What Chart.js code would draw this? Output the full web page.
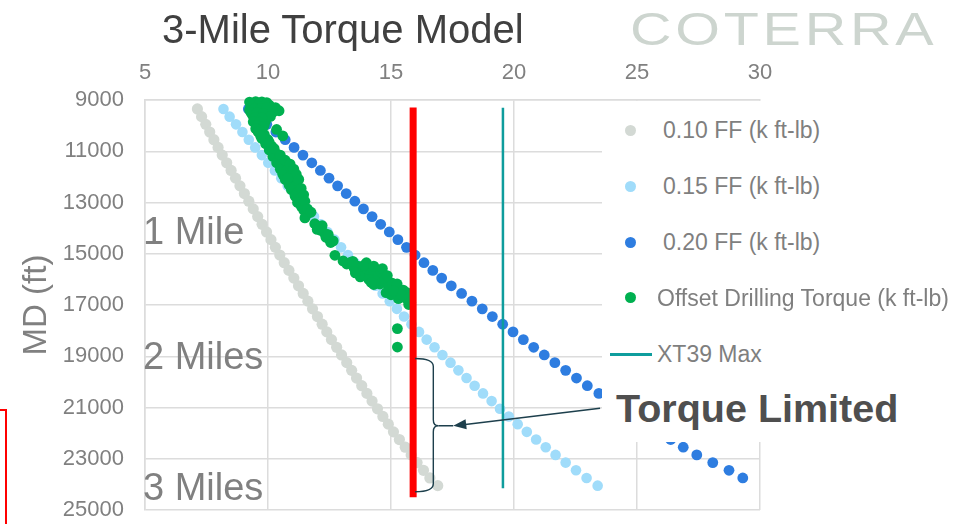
<!DOCTYPE html>
<html>
<head>
<meta charset="utf-8">
<title>3-Mile Torque Model</title>
<script src="https://cdn.jsdelivr.net/npm/chart.js@4.4.1/dist/chart.umd.min.js"></script>
<style>
  html, body { margin: 0; padding: 0; background: #fff; }
  #wrap { position: relative; width: 961px; height: 524px; overflow: hidden;
          font-family: "Liberation Sans", Arial, sans-serif; }
  #chart { position: absolute; left: 0; top: 0; }
  .txt { position: absolute; white-space: nowrap; line-height: 1; }
  #title { left: 162px; top: 9px; font-size: 40px; color: #404040; }
  #brand { left: 630px; top: 6px; font-size: 46px; color: #cdd5cf; letter-spacing: 3px;
           transform: scaleX(1.25); transform-origin: 0 0; }
  #cover { position: absolute; left: 602px; top: 101px; width: 330px; height: 341px; background: #fff; }
  .lg { position: absolute; font-size: 23px; color: #7f7f7f; line-height: 1; white-space: nowrap; }
  .dot { position: absolute; width: 11px; height: 11px; border-radius: 50%; }
  .mile { position: absolute; left: 143px; font-size: 38px; color: #808080; line-height: 1; white-space: nowrap; }
  #limit { left: 616px; top: 389px; font-size: 39.5px; font-weight: bold; color: #4f4f4f; }
  #redFrame { position: absolute; left: -100px; top: 409px; width: 103px; height: 200px; border: 2px solid #ff0000; }
</style>
</head>
<body>
<div id="wrap">
  <canvas id="chart" width="961" height="524"></canvas>
  <div class="txt" id="title">3-Mile Torque Model</div>
  <div class="txt" id="brand">COTERRA</div>
  <div id="cover"></div>
  <div class="dot" style="left:625px;top:125px;background:#d3d9d4"></div>
  <div class="lg" style="left:663px;top:119px">0.10 FF (k ft-lb)</div>
  <div class="dot" style="left:625px;top:181px;background:#a0dcfa"></div>
  <div class="lg" style="left:663px;top:175px">0.15 FF (k ft-lb)</div>
  <div class="dot" style="left:625px;top:237px;background:#2e7de0"></div>
  <div class="lg" style="left:663px;top:231px">0.20 FF (k ft-lb)</div>
  <div class="dot" style="left:625px;top:292px;background:#00b050"></div>
  <div class="lg" style="left:657px;top:287px">Offset Drilling Torque (k ft-lb)</div>
  <div style="position:absolute;left:610px;top:353px;width:42px;height:3px;background:#0f9d9d"></div>
  <div class="lg" style="left:657px;top:343px">XT39 Max</div>
  <div class="mile" style="top:212px">1 Mile</div>
  <div class="mile" style="top:337px">2 Miles</div>
  <div class="mile" style="top:468px">3 Miles</div>
  <div class="txt" id="limit">Torque Limited</div>
  <div id="redFrame"></div>
</div>
<script>
// measured depth of the model points (ft)
const mdFt = [9350, 9650, 9950, 10250, 10550, 10850, 11150, 11450, 11750, 12050,
              12350, 12650, 12950, 13250, 13550, 13850, 14150, 14450, 14750, 15050,
              15350, 15650, 15950, 16250, 16550, 16850, 17150, 17450, 17750, 18050,
              18350, 18650, 18950, 19250, 19550, 19850, 20150, 20450, 20750, 21050,
              21350, 21650, 21950, 22250, 22550, 22850, 23150, 23450, 23750, 24050];

// torque (k ft-lb) per friction factor
const ff010 = [7.13, 7.30, 7.47, 7.63, 7.80, 7.97, 8.14, 8.32, 8.50, 8.68,
               8.86, 9.04, 9.22, 9.40, 9.58, 9.76, 9.94, 10.12, 10.30, 10.48,
               10.66, 10.85, 11.05, 11.24, 11.43, 11.62, 11.81, 12.01, 12.20, 12.39,
               12.58, 12.79, 12.99, 13.20, 13.40, 13.60, 13.81, 14.02, 14.23, 14.45,
               14.67, 14.89, 15.10, 15.34, 15.58, 15.82, 16.06, 16.32, 16.58, 16.90];
const ff015 = [8.19, 8.44, 8.70, 8.96, 9.22, 9.48, 9.75, 10.01, 10.28, 10.54,
               10.80, 11.07, 11.33, 11.60, 11.87, 12.15, 12.42, 12.70, 12.97, 13.25,
               13.53, 13.80, 14.08, 14.37, 14.66, 14.95, 15.24, 15.53, 15.83, 16.14,
               16.45, 16.77, 17.09, 17.42, 17.74, 18.07, 18.40, 18.74, 19.09, 19.43,
               19.79, 20.15, 20.52, 20.90, 21.29, 21.69, 22.10, 22.52, 22.95, 23.40];
const ff020 = [9.20, 9.58, 9.95, 10.32, 10.70, 11.06, 11.42, 11.78, 12.13, 12.48,
               12.83, 13.18, 13.53, 13.88, 14.23, 14.58, 14.93, 15.28, 15.63, 15.98,
               16.34, 16.70, 17.06, 17.45, 17.87, 18.29, 18.71, 19.12, 19.54, 19.96,
               20.38, 20.80, 21.23, 21.66, 22.10, 22.54, 22.98, 23.45, 23.93, 24.41,
               24.89, 25.38, 25.87, 26.37, 26.88, 27.43, 28.08, 28.74, 29.30];

// offset well drilling torque
const offsetTorque = [9.25, 9.5, 9.75, 9.95, 9.3, 9.55, 9.8, 10.05, 10.3, 10.45,
                      9.25, 9.5, 9.75, 10.0, 10.2, 9.35, 9.6, 9.85, 10.05, 9.45,
                      9.7, 9.9, 9.6, 9.85, 9.75, 10.35, 10.6,
                      9.4, 9.65, 9.9, 10.15, 9.45, 9.7, 9.95, 9.3, 9.55, 9.8,
                      10.1, 9.5, 9.75, 9.4, 9.65, 9.55, 9.8, 9.65, 9.5,
                      9.6, 9.85, 9.75, 10.0, 9.9, 10.15, 10.05, 10.3, 10.2, 10.45,
                      10.35, 10.6, 10.5, 10.75, 10.6, 10.9, 10.7, 11.0, 10.85, 11.15,
                      10.95, 11.2, 11.1, 11.3, 11.2, 11.35, 11.45, 11.6, 11.5,
                      9.7, 10.05, 10.25, 10.5, 10.7, 10.9, 11.05, 11.15, 11.25, 10.8,
                      11.35, 11.45, 11.5, 11.6, 11.75,
                      11.9, 12.05, 12.15, 12.3, 12.35, 12.5, 12.55, 12.2, 12.45, 12.0, 12.65,
                      12.72,
                      13.2, 13.35, 13.5, 13.65, 13.8, 14.0, 14.0, 14.15, 14.3, 14.45,
                      14.6, 14.55, 14.75, 14.9, 15.05, 15.2, 15.25, 15.35, 15.5, 15.55,
                      15.65, 15.7, 15.72, 13.75, 14.3, 14.8, 14.1, 15.0, 15.3,
                      13.05, 13.45, 13.9, 14.3, 14.65, 14.85, 13.55, 14.2, 15.1, 15.45,
                      15.75, 15.8,
                      15.26, 15.26];
const offsetMd = [9080, 9060, 9070, 9100, 9220, 9200, 9240, 9200, 9300, 9420,
                  9380, 9400, 9420, 9380, 9480, 9560, 9600, 9620, 9560, 9740,
                  9780, 9820, 9920, 9980, 10080, 10150, 10400,
                  9150, 9140, 9170, 9300, 9320, 9330, 9300, 9480, 9500, 9520,
                  9640, 9680, 9700, 9850, 9860, 10000, 10050, 10180, 10120,
                  10250, 10350, 10500, 10550, 10700, 10800, 10950, 11050, 11200, 11300,
                  11450, 11550, 11700, 11750, 11900, 11950, 12100, 12150, 12300, 12350,
                  12500, 12600, 12750, 12850, 13000, 13150, 13300, 13450, 13600,
                  10400, 10650, 10900, 11150, 11350, 11500, 11700, 11900, 12100, 12050,
                  12450, 12700, 12950, 13250, 13380,
                  13830, 13950, 14090, 14200, 14350, 14450, 14560, 13900, 14250, 14050, 14500,
                  15060,
                  15400, 15340, 15560, 15480, 15700, 15560, 15350, 15820, 15620, 15950,
                  15720, 16180, 16030, 16270, 16150, 16380, 16180, 16540, 16420, 16700,
                  16520, 16830, 16980, 15900, 16200, 16520, 16000, 16600, 16750,
                  15280, 15300, 15450, 15480, 15580, 15850, 15750, 16120, 16450, 16620,
                  16700, 16900,
                  17920, 18640];

// vertical limits
const xt39Max = 19.55;
const xt39Md = [9300, 24150];
const limitTorque = 15.9;
const limitMd = [9290, 24500];

// brace + arrow annotation (data units)
const braceTorque = [15.98, 16.72, 17.53];
const braceMd = [19090, 21710, 24290];
const arrowFrom = [23.5, 21030];

const torqueTicks = [5, 10, 15, 20, 25, 30];
const mdTicks = [9000, 11000, 13000, 15000, 17000, 19000, 21000, 23000, 25000];

function pts(xs, ys) {
  return xs.map((v, i) => ({ x: v, y: ys[i] }));
}

const braceMark = {
  id: 'braceMark',
  afterDatasetsDraw(chart) {
    const { ctx, scales: { x, y } } = chart;
    const x0 = x.getPixelForValue(braceTorque[0]);
    const x1 = x.getPixelForValue(braceTorque[1]);
    const tip = x.getPixelForValue(braceTorque[2]);
    const yT = y.getPixelForValue(braceMd[0]);
    const yM = y.getPixelForValue(braceMd[1]);
    const yB = y.getPixelForValue(braceMd[2]);
    ctx.save();
    ctx.strokeStyle = '#1d3f4c';
    ctx.fillStyle = '#1d3f4c';
    ctx.lineWidth = 1.4;
    ctx.beginPath();
    ctx.moveTo(x0, yT);
    ctx.quadraticCurveTo(x1, yT, x1, yT + 8);
    ctx.lineTo(x1, yM - 6);
    ctx.quadraticCurveTo(x1, yM, x1 + 5, yM);
    ctx.quadraticCurveTo(x1, yM, x1, yM + 6);
    ctx.lineTo(x1, yB - 8);
    ctx.quadraticCurveTo(x1, yB, x0, yB);
    ctx.stroke();
    // arrow
    const ax = x.getPixelForValue(arrowFrom[0]);
    const ay = y.getPixelForValue(arrowFrom[1]);
    ctx.beginPath();
    ctx.moveTo(x1 + 5, yM);
    ctx.lineTo(tip, yM);
    ctx.moveTo(ax, ay);
    ctx.lineTo(tip + 10, yM - 1);
    ctx.stroke();
    const ang = Math.atan2(ay - yM, ax - tip);
    ctx.beginPath();
    ctx.moveTo(tip, yM);
    ctx.lineTo(tip + 13 * Math.cos(ang) - 5 * Math.sin(ang), yM + 13 * Math.sin(ang) + 5 * Math.cos(ang));
    ctx.lineTo(tip + 13 * Math.cos(ang) + 5 * Math.sin(ang), yM + 13 * Math.sin(ang) - 5 * Math.cos(ang));
    ctx.closePath();
    ctx.fill();
    ctx.restore();
  }
};

Chart.defaults.font.family = '"Liberation Sans", Arial, sans-serif';

const ctx = document.getElementById('chart').getContext('2d');
new Chart(ctx, {
  type: 'scatter',
  data: {
    datasets: [
      { label: '0.10 FF (k ft-lb)', data: pts(ff010, mdFt), backgroundColor: '#d3d9d4',
        pointRadius: 5.6, pointBorderWidth: 0, order: 6, clip: false },
      { label: '0.15 FF (k ft-lb)', data: pts(ff015, mdFt), backgroundColor: '#a0dcfa',
        pointRadius: 5.3, pointBorderWidth: 0, order: 5, clip: false },
      { label: '0.20 FF (k ft-lb)', data: pts(ff020, mdFt), backgroundColor: '#2e7de0',
        pointRadius: 5.4, pointBorderWidth: 0, order: 4, clip: false },
      { label: 'Offset Drilling Torque (k ft-lb)', data: pts(offsetTorque, offsetMd), backgroundColor: '#00b050',
        pointRadius: 5.4, pointBorderWidth: 0, order: 3, clip: false },
      { label: 'Limit', data: pts([limitTorque, limitTorque], limitMd), showLine: true,
        borderColor: '#ff0000', borderWidth: 7, pointRadius: 0, order: 2, clip: false },
      { label: 'XT39 Max', data: pts([xt39Max, xt39Max], xt39Md), showLine: true,
        borderColor: '#0f9d9d', borderWidth: 2.5, pointRadius: 0, order: 1, clip: false }
    ]
  },
  options: {
    responsive: false,
    animation: false,
    events: [],
    layout: { padding: { left: 0, top: 0, right: 201, bottom: 14 } },
    plugins: { legend: { display: false }, tooltip: { enabled: false } },
    scales: {
      x: {
        type: 'linear',
        position: 'top',
        min: 5,
        max: 30,
        afterBuildTicks: s => { s.ticks = torqueTicks.map(v => ({ value: v })); },
        afterFit: s => { s.height = 100; },
        ticks: { color: '#808080', font: { size: 22 }, padding: 14, callback: v => String(v) },
        grid: { color: '#dcdcdc', lineWidth: 1.5, drawTicks: false },
        border: { color: '#dcdcdc', width: 1.5 }
      },
      y: {
        type: 'linear',
        reverse: true,
        min: 9000,
        max: 25000,
        afterBuildTicks: s => { s.ticks = mdTicks.map(v => ({ value: v })); },
        afterFit: s => { s.width = 145; s.paddingTop = 0; s.paddingBottom = 0; },
        ticks: { color: '#808080', font: { size: 22 }, padding: 21, callback: v => String(v) },
        grid: { color: '#dcdcdc', lineWidth: 1.5, drawTicks: false },
        border: { color: '#dcdcdc', width: 1.5 },
        title: { display: true, text: 'MD (ft)', color: '#808080', font: { size: 33 }, padding: { top: 17, bottom: 0 } }
      }
    }
  },
  plugins: [braceMark]
});
</script>
</body>
</html>
